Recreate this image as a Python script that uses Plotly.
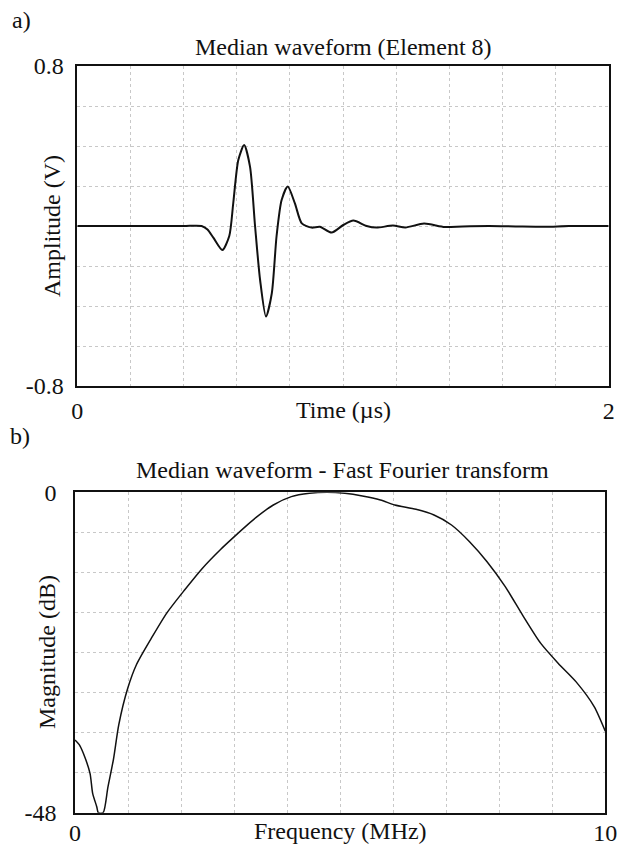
import plotly.graph_objects as go

W, H = 618, 845

# ---- data: panel a (median waveform) ----
time_us = [0.0, 0.2, 0.4, 0.468, 0.49, 0.512, 0.546, 0.572, 0.587, 0.606, 0.628, 0.650,
           0.669, 0.688, 0.710, 0.732, 0.750, 0.769, 0.792, 0.819, 0.845, 0.882, 0.913,
           0.957, 1.001, 1.039, 1.089, 1.126, 1.188, 1.235, 1.305, 1.383, 1.45, 1.55,
           1.65, 1.76, 1.85, 2.0]
amplitude_v = [0.0, 0.0, 0.0, 0.0, -0.018, -0.058, -0.12, -0.05, 0.115, 0.33, 0.405, 0.297,
               0.0, -0.27, -0.453, -0.337, -0.05, 0.13, 0.197, 0.113, 0.013, -0.008, -0.004,
               -0.033, 0.005, 0.027, 0.0, -0.008, 0.002, -0.007, 0.012, -0.005, -0.002, 0.0,
               -0.002, -0.004, 0.0, 0.0]

# ---- data: panel b (FFT magnitude) ----
freq_mhz = [0.0, 0.08, 0.157, 0.283, 0.333, 0.41, 0.44, 0.53, 0.62, 0.725, 0.826, 0.993,
            1.16, 1.46, 1.73, 2.07, 2.40, 2.74, 3.01, 3.41, 3.74, 4.08, 4.42, 4.75, 5.09,
            5.42, 5.76, 6.03, 6.43, 6.77, 7.10, 7.44, 7.77, 8.11, 8.44, 8.78, 9.11, 9.45,
            9.79, 10.0]
magnitude_db = [-37.1, -37.8, -39.1, -42.1, -45.1, -47.1, -48.0, -48.0, -44.2, -40.0, -34.8,
                -29.4, -25.8, -21.6, -18.1, -14.6, -11.4, -8.6, -6.6, -3.8, -1.9, -0.65,
                -0.15, 0.0, -0.15, -0.55, -1.15, -1.9, -2.55, -3.4, -4.9, -7.4, -10.4, -14.1,
                -18.4, -22.6, -25.6, -28.4, -32.1, -35.8]

# ---- tick grids and labels ----
a_xticks = [round(0.2 * i, 2) for i in range(11)]
a_xlabels = ["0"] + [""] * 9 + ["2"]
a_yticks = [round(-0.8 + 0.2 * i, 2) for i in range(9)]
a_ylabels = ["-0.8"] + [""] * 7 + ["0.8"]
b_xticks = list(range(11))
b_xlabels = ["0"] + [""] * 9 + ["10"]
b_yticks = [-48 + 6 * i for i in range(9)]
b_ylabels = ["-48"] + [""] * 7 + ["0"]

FONT = "Liberation Serif, Times New Roman, serif"
INK = "#111111"
GRID = "#c8c8c8"

def px_x(p):
    return p / W

def px_y(p):
    return 1 - p / H

fig = go.Figure()
fig.add_trace(go.Scatter(x=time_us, y=amplitude_v, mode="lines",
                         line=dict(color=INK, width=2, shape="spline", smoothing=0.7),
                         xaxis="x", yaxis="y", showlegend=False))
fig.add_trace(go.Scatter(x=freq_mhz, y=magnitude_db, mode="lines",
                         line=dict(color=INK, width=1.5, shape="spline", smoothing=0.7),
                         xaxis="x2", yaxis="y2", showlegend=False))

axis_common = dict(showline=True, mirror=True, linecolor=INK, linewidth=1.5,
                   showgrid=True, gridcolor=GRID, gridwidth=1, griddash="dot",
                   zeroline=False, ticks="", tickmode="array", automargin=False,
                   tickfont=dict(family=FONT, size=24, color=INK))

fig.update_layout(
    width=W, height=H,
    margin=dict(l=0, r=0, t=0, b=0, autoexpand=False),
    paper_bgcolor="white", plot_bgcolor="white",
    font=dict(family=FONT, size=24, color=INK),
    xaxis=dict(domain=[px_x(77.3), px_x(608.7)], range=[0, 2], anchor="y",
               tickvals=a_xticks, ticktext=a_xlabels, ticklabelstandoff=2, **axis_common),
    yaxis=dict(domain=[px_y(386), px_y(66)], range=[-0.8, 0.8], anchor="x",
               tickvals=a_yticks, ticktext=a_ylabels, ticklabelstandoff=7, **axis_common),
    xaxis2=dict(domain=[px_x(75), px_x(605.3)], range=[0, 10], anchor="y2",
                tickvals=b_xticks, ticktext=b_xlabels, ticklabelstandoff=-2, **axis_common),
    yaxis2=dict(domain=[px_y(812.7), px_y(492.3)], range=[-48, 0], anchor="x2",
                tickvals=b_yticks, ticktext=b_ylabels, ticklabelstandoff=12, **axis_common),
)

def note(text, x, y, size=24, angle=0, xanchor="center"):
    fig.add_annotation(text=text, x=px_x(x), y=px_y(y), xref="paper", yref="paper",
                       showarrow=False, textangle=angle, xanchor=xanchor, yanchor="middle",
                       font=dict(family=FONT, size=size, color=INK))

note("a)", 10, 20, xanchor="left")
note("Median waveform (Element 8)", 343, 47)
note("Time (µs)", 343, 410)
note("Amplitude (V)", 52, 226, angle=-90)
note("b)", 8, 436, xanchor="left")
note("Median waveform - Fast Fourier transform", 342, 470)
note("Frequency (MHz)", 340, 831)
note("Magnitude (dB)", 47, 652, angle=-90)

fig.write_html("out.html")
